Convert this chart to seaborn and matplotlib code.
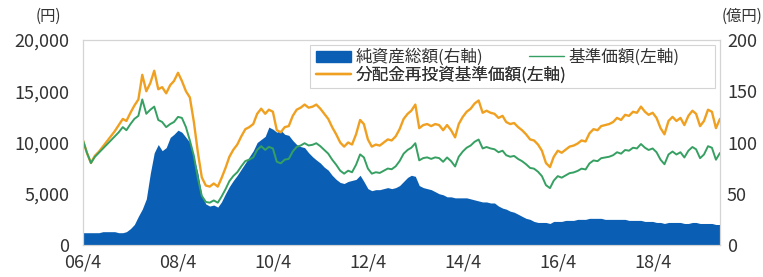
import pandas as pd
import numpy as np
import matplotlib
matplotlib.use("Agg")
import matplotlib.pyplot as plt
import matplotlib.patches as mpatches
from matplotlib.ticker import FuncFormatter
import seaborn as sns

# monthly values, 2006/4 .. 2019/9
start_month = "2006-04-01"

# 基準価額 (円, 左軸)
nav = [
    10200, 9000, 8000, 8600, 9000, 9400, 9800, 10200, 10600,                 # 2006
    11000, 11500, 11200, 11800, 12300, 12600, 14200, 12800, 13200, 13500, 12200, 12000,  # 2007
    11500, 11800, 12000, 12500, 12400, 11500, 10200, 8700, 6500, 4800, 4200, 4130,      # 2008
    4350, 4130, 4700, 5430, 6230, 6740, 7100, 7680, 8190, 8330, 8550, 9280,            # 2009
    9640, 9280, 9570, 9420, 8120, 7970, 8330, 8400, 9130, 9570, 9710, 9930,            # 2010
    9710, 9780, 9930, 9640, 9280, 8910, 8330, 7830, 7250, 6960, 7250, 7100,            # 2011
    7830, 8840, 8550, 7460, 6960, 7100, 7030, 7250, 7460, 7390, 7680, 8190,            # 2012
    8910, 9280, 9490, 9930, 8260, 8480, 8550, 8400, 8550, 8480, 8120, 8540,            # 2013
    8180, 7660, 8610, 9120, 9490, 9710, 10070, 10290, 9420, 9560, 9420, 9340,          # 2014
    9050, 9200, 8760, 8610, 8690, 8390, 8180, 7880, 7520, 7450, 7150, 6720,            # 2015
    5840, 5550, 6280, 6720, 6570, 6790, 7010, 7080, 7230, 7450, 7370, 7960,            # 2016
    8250, 8180, 8470, 8540, 8610, 8760, 9050, 8910, 9270, 9200, 9490, 9420,            # 2017
    9850, 9490, 9270, 9420, 9050, 8320, 7880, 8830, 9120, 8830, 9050, 8540,            # 2018
    9200, 9560, 9340, 8470, 8830, 9640, 9490, 8320, 8980,                              # 2019
]

# 分配金再投資基準価額 (円, 左軸)
nav_reinvested = [
    10200, 9000, 8000, 8700, 9100, 9600, 10100, 10600, 11100,
    11700, 12300, 12100, 12900, 13600, 14200, 16600, 15000, 15800, 17000, 15200, 15400,
    14800, 15600, 16000, 16800, 16000, 15000, 14400, 12000, 9000, 6600, 5800, 5700,
    6000, 5700, 6500, 7500, 8600, 9300, 9800, 10600, 11300, 11500, 11800, 12800,
    13300, 12800, 13200, 13000, 11200, 11000, 11500, 11600, 12600, 13200, 13400, 13700,
    13400, 13500, 13700, 13300, 12800, 12300, 11500, 10800, 10000, 9600, 10000, 9800,
    10800, 12200, 11800, 10300, 9600, 9800, 9700, 10000, 10300, 10200, 10600, 11300,
    12300, 12800, 13100, 13700, 11400, 11700, 11800, 11600, 11800, 11700, 11200, 11700,
    11200, 10500, 11800, 12500, 13000, 13300, 13800, 14100, 12900, 13100, 12900, 12800,
    12400, 12600, 12000, 11800, 11900, 11500, 11200, 10800, 10300, 10200, 9800, 9200,
    8000, 7600, 8600, 9200, 9000, 9300, 9600, 9700, 9900, 10200, 10100, 10900,
    11300, 11200, 11600, 11700, 11800, 12000, 12400, 12200, 12700, 12600, 13000, 12900,
    13500, 13000, 12700, 12900, 12400, 11400, 10800, 12100, 12500, 12100, 12400, 11700,
    12600, 13100, 12800, 11600, 12100, 13200, 13000, 11400, 12300,
]

# 純資産総額 (億円, 右軸)
net_assets = [
    12, 12, 12, 12, 12, 13, 13, 13, 13,
    12, 12, 13, 16, 20, 28, 35, 45, 70, 90, 98, 92,
    95, 105, 108, 112, 110, 105, 100, 85, 70, 48, 40, 38,
    39, 37, 42, 50, 57, 63, 68, 74, 80, 86, 92, 100,
    103, 106, 115, 113, 110, 112, 108, 107, 102, 98, 96, 95,
    90, 86, 83, 80, 76, 73, 68, 64, 61, 60, 62, 63,
    64, 68, 62, 55, 53, 54, 54, 55, 56, 55, 56, 58,
    62, 66, 68, 67, 58, 56, 55, 54, 52, 50, 49, 47,
    47, 46, 46, 46, 46, 45, 44, 43, 42, 42, 41, 41,
    38, 36, 35, 33, 32, 30, 28, 26, 25, 23, 22, 22,
    22, 21, 23, 23, 23, 24, 24, 24, 25, 25, 25, 26,
    26, 26, 26, 25, 25, 25, 25, 25, 25, 24, 24, 24,
    24, 23, 23, 23, 22, 22, 21, 22, 22, 22, 22, 21,
    21, 22, 22, 21, 21, 21, 21, 20, 20,
]

tick_dates = ["2006-04-01", "2008-04-01", "2010-04-01", "2012-04-01",
              "2014-04-01", "2016-04-01", "2018-04-01"]
tick_labels = ["06/4", "08/4", "10/4", "12/4", "14/4", "16/4", "18/4"]

label_assets = "純資産総額(右軸)"
label_nav = "基準価額(左軸)"
label_nav_re = "分配金再投資基準価額(左軸)"

dates = pd.date_range(start_month, periods=len(nav), freq="MS")
df = pd.DataFrame({"date": dates, "nav": nav, "nav_re": nav_reinvested,
                   "assets": net_assets})

sns.set_theme(style="white")
plt.rcParams["font.family"] = ["Noto Sans CJK JP", "DejaVu Sans"]

c_blue = "#0a5fb4"
c_orange = "#f0a020"
c_green = "#36a062"
c_text = "#333333"
c_frame = "#d4d4d4"

fig = plt.figure(figsize=(7.63, 2.77), dpi=100)
ax = fig.add_axes([0.1088, 0.1155, 0.8348, 0.7401])

# area on the base axes (right scale), lines on the twin (left scale)
ax.fill_between(df["date"], df["assets"], color=c_blue, lw=0)
ax.set_ylim(0, 200)
ax.set_yticks([0, 50, 100, 150, 200])

ax2 = ax.twinx()
sns.lineplot(data=df, x="date", y="nav_re", ax=ax2, color=c_orange, lw=1.7)
sns.lineplot(data=df, x="date", y="nav", ax=ax2, color=c_green, lw=1.4)
ax2.set_ylim(0, 20000)
ax2.set_yticks([0, 5000, 10000, 15000, 20000])
ax2.yaxis.set_major_formatter(FuncFormatter(lambda v, p: f"{int(v):,}"))

ax.yaxis.tick_right()
ax2.yaxis.tick_left()
ax.set_xlim(pd.Timestamp("2006-04-01"), df["date"].iloc[-1])
ax.set_xticks(pd.to_datetime(tick_dates))
ax.set_xticklabels(tick_labels)

for a in (ax, ax2):
    a.set_xlabel("")
    a.set_ylabel("")
    a.tick_params(length=0, labelsize=13, colors=c_text)
    for s in a.spines.values():
        s.set_color(c_frame)
        s.set_linewidth(0.8)
ax.tick_params(axis="x", pad=6)
ax.tick_params(axis="y", pad=5)
ax2.tick_params(axis="y", pad=10)

# legend: framed box with blue + green on the first row, orange below
box = mpatches.Rectangle((0.356, 0.766), 0.636, 0.21, transform=ax2.transAxes,
                         facecolor="white", edgecolor=c_frame, lw=0.8, zorder=5)
ax2.add_patch(box)

leg_kw = dict(loc="center left", frameon=False, fontsize=12,
              handlelength=2.1, handletextpad=0.3, borderpad=0,
              borderaxespad=0)
entries = [
    (mpatches.Patch(color=c_blue), label_assets, (0.365, 0.915)),
    (plt.Line2D([], [], color=c_green, lw=1.0), label_nav, (0.70, 0.915)),
    (plt.Line2D([], [], color=c_orange, lw=1.7), label_nav_re, (0.365, 0.83)),
]
for handle, text, anchor in entries:
    leg = ax2.legend([handle], [text], bbox_to_anchor=anchor, **leg_kw)
    leg.set_zorder(6)
    for t in leg.get_texts():
        t.set_color(c_text)
    ax2.add_artist(leg)

fig.text(0.063, 0.94, "(円)", ha="center", va="center", fontsize=11, color=c_text)
fig.text(0.972, 0.94, "(億円)", ha="center", va="center", fontsize=11, color=c_text)

fig.savefig("out.png", dpi=100)
